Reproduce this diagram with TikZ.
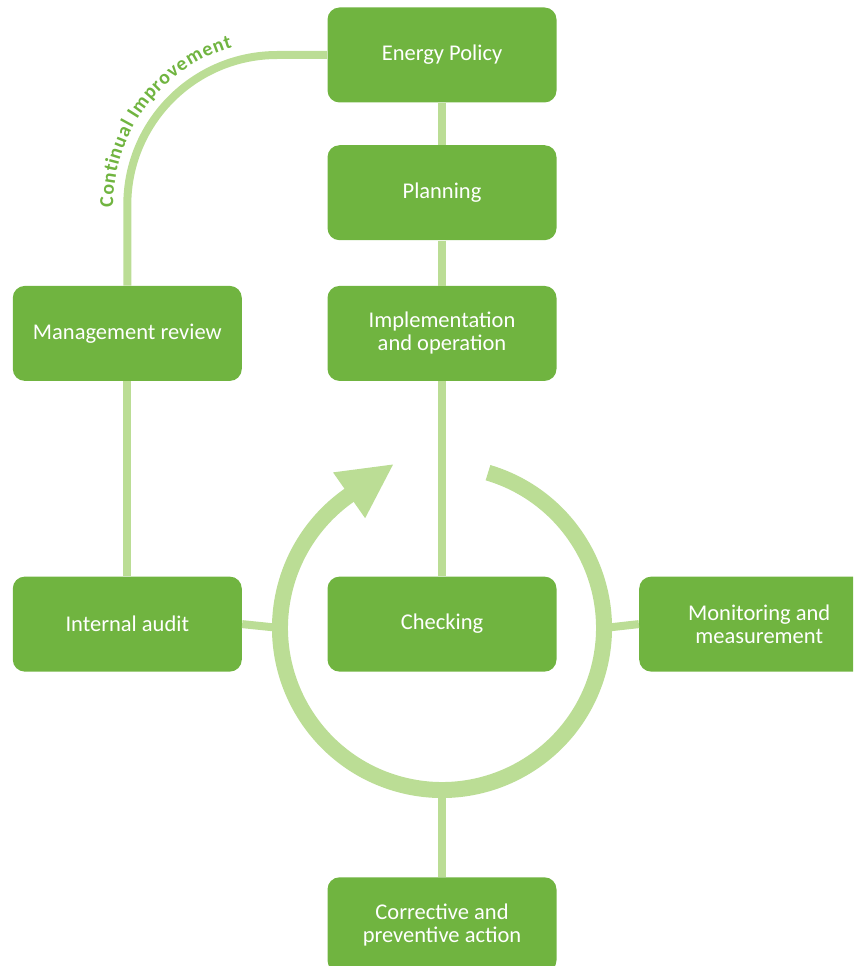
\documentclass[tikz,border=0pt]{standalone}
\usepackage{fontspec}
\setmainfont{Carlito}
\usepackage{xcolor}
\usetikzlibrary{arrows.meta,positioning,decorations.text}
\definecolor{boxgreen}{RGB}{112,180,64}
\definecolor{ringgreen}{RGB}{187,221,149}

\begin{document}
\begin{tikzpicture}[font=\fontsize{12.8}{13}\selectfont, box/.style={fill=boxgreen, text=white, rounded corners=0.24cm, align=center, minimum width=4.58cm, minimum height=1.9cm, inner sep=2pt}, link/.style={draw=ringgreen, line width=0.16cm}, ring/.style={draw=ringgreen, line width=0.32cm}]
\useasboundingbox (0,0) rectangle (17.06,-19.32);
\clip (0,0) rectangle (17.06,-19.32);
% boxes
\node[box] (ep) at (8.84,-1.1) {Energy Policy};
\node[box, below=0.84cm of ep] (plan) {Planning};
\node[box, below=0.9cm of plan] (impl) {Implementation\\and operation};
\node[box, below=3.9cm of impl] (chk) {Checking};
\node[box, below=4.1cm of chk] (cor) {Corrective and\\preventive action};
\node[box, left=1.7cm of impl] (mr) {Management review};
\node[box, left=1.7cm of chk] (ia) {Internal audit};
\node[box, right=1.64cm of chk, minimum width=4.8cm] (mon) {Monitoring and\\measurement};
\coordinate (ctr) at (8.84,-12.56);
\coordinate (ringW) at ([xshift=-3.24cm]ctr);
\coordinate (ringE) at ([xshift=3.24cm]ctr);
\coordinate (ringS) at ([yshift=-3.24cm]ctr);
% connectors
\draw[link] (ep) -- (plan);
\draw[link] (plan) -- (impl);
\draw[link] (impl) -- (chk);
\draw[link] (mr) -- (ia);
\draw[link] (ia.east) -- (ringW);
\draw[link] (ringE) -- (mon.west);
\draw[link] (ringS) -- (cor.north);
\draw[link, rounded corners=3cm] (ep.west) -| (mr.north);
\path[rounded corners=3cm, decorate, decoration={text along path, raise=0.28cm, text align={left indent=1.56cm}, text color=boxgreen, text={|\fontsize{11.3}{12}\selectfont\bfseries|Continual Improvement}}] (mr.north) |- (ep.west);
% cycle
\draw[ring, -{Triangle[width=1.03cm, length=1.1cm]}] (ctr) ++(73.5:3.24) arc[start angle=73.5, end angle=-235, radius=3.24cm] -- ++(35:1.1cm);
\end{tikzpicture}
\end{document}
